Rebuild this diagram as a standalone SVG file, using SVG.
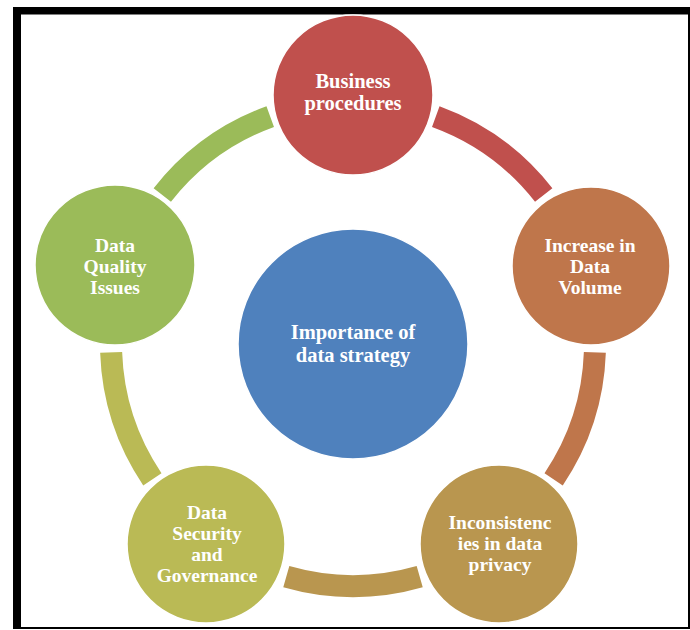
<svg xmlns="http://www.w3.org/2000/svg" width="690" height="630" viewBox="0 0 690 630">
<style>
.arc{fill:none;stroke-width:22;stroke-linecap:butt}
.node{stroke:#ffffff;stroke-width:1.5}
.lbl{font-family:"Liberation Serif","Times New Roman",serif;font-weight:bold;font-size:19.5px;fill:#ffffff;text-anchor:middle}
.big{font-size:20.5px}
</style>
<rect x="0" y="0" width="690" height="630" fill="#ffffff"/>
<g id="frame" fill="#000000">
<rect x="13" y="7" width="677" height="7.5"/>
<rect x="13" y="7" width="8" height="622"/>
<rect x="688" y="7" width="2" height="622"/>
<rect x="13" y="627" width="677" height="2"/>
</g>
<g id="connectors">
<path class="arc" stroke="#C0504D" d="M435.77,116.59 A242,242 0 0 1 543.70,195.01"/>
<path class="arc" stroke="#BF764B" d="M594.85,352.45 A242,242 0 0 1 553.63,479.32"/>
<path class="arc" stroke="#B9964F" d="M419.70,576.62 A242,242 0 0 1 286.30,576.62"/>
<path class="arc" stroke="#BABA55" d="M152.37,479.32 A242,242 0 0 1 111.15,352.45"/>
<path class="arc" stroke="#9BBB59" d="M162.30,195.01 A242,242 0 0 1 270.23,116.59"/>
</g>
<g id="center">
<circle class="node" cx="353" cy="344" r="115" fill="#4F81BD"/>
<text class="lbl big" x="353" y="339">Importance of</text>
<text class="lbl big" x="353" y="362">data strategy</text>
</g>
<g id="business">
<circle class="node" cx="353" cy="95" r="80" fill="#C0504D"/>
<text class="lbl big" x="353" y="88">Business</text>
<text class="lbl big" x="353" y="110">procedures</text>
</g>
<g id="increase">
<circle class="node" cx="591" cy="266" r="79" fill="#BF764B"/>
<text class="lbl" x="590" y="252">Increase in</text>
<text class="lbl" x="590" y="273">Data</text>
<text class="lbl" x="590" y="294">Volume</text>
</g>
<g id="inconsistencies">
<circle class="node" cx="499" cy="544" r="79" fill="#B9964F"/>
<text class="lbl" x="500" y="529">Inconsistenc</text>
<text class="lbl" x="500" y="550">ies in data</text>
<text class="lbl" x="500" y="571">privacy</text>
</g>
<g id="security">
<circle class="node" cx="206" cy="544" r="79" fill="#BABA55"/>
<text class="lbl" x="207" y="519">Data</text>
<text class="lbl" x="207" y="540">Security</text>
<text class="lbl" x="207" y="561">and</text>
<text class="lbl" x="207" y="582">Governance</text>
</g>
<g id="quality">
<circle class="node" cx="115" cy="265" r="80" fill="#9BBB59"/>
<text class="lbl" x="115" y="252">Data</text>
<text class="lbl" x="115" y="273">Quality</text>
<text class="lbl" x="115" y="294">Issues</text>
</g>
</svg>
